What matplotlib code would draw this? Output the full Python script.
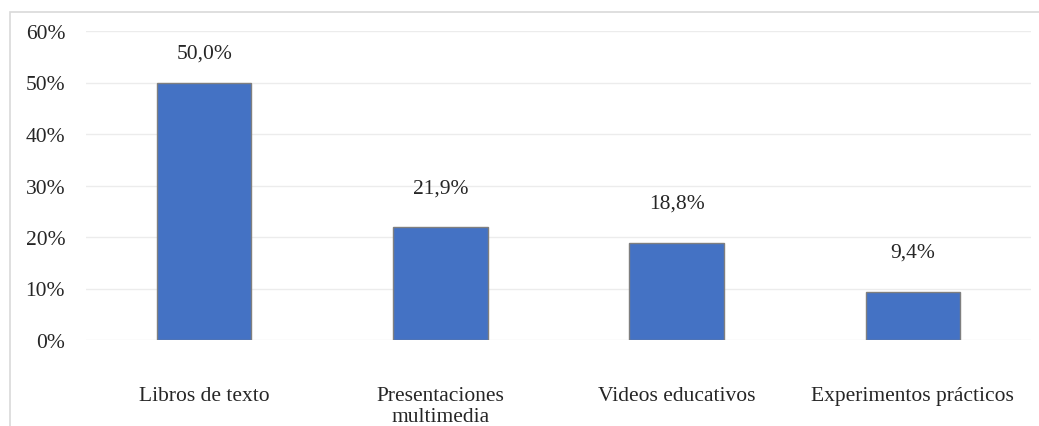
import matplotlib.pyplot as plt
import matplotlib.patches as patches

categories = ['Libros de texto', 'Presentaciones\nmultimedia', 'Videos educativos', 'Experimentos prácticos']
values = [50.0, 21.9, 18.8, 9.4]
yticks = [0, 10, 20, 30, 40, 50, 60]

plt.rcParams['font.family'] = ['Liberation Serif', 'DejaVu Serif']
fs = 15.5
txt = '#262626'

fig = plt.figure(figsize=(10.39, 4.27), dpi=100)
ax = fig.add_axes([86 / 1039, 1 - 341 / 427, 945 / 1039, 309 / 427])

x = range(len(categories))
ax.bar(x, values, width=0.40, color='#4472c4', edgecolor='#7f7f7f', linewidth=1.0, zorder=3)

# value labels sit above the bars, kept inside the plot area near the top
for xi, v in zip(x, values):
    ax.text(xi, min(v + 7.7, 55.8), f'{v:.1f}%'.replace('.', ','),
            ha='center', va='center', fontsize=fs, color=txt)

ax.set_xlim(-0.5, len(categories) - 0.5)
ax.set_ylim(0, 60)
ax.set_yticks(yticks)
ax.set_yticklabels([f'{t}%' for t in yticks], fontsize=fs, color=txt)
ax.set_xticks(list(x))
ax.set_xticklabels(categories, fontsize=fs, color=txt, linespacing=1.15)
ax.tick_params(axis='y', length=0, pad=15)
ax.tick_params(axis='x', length=0, pad=33)
ax.grid(axis='y', color='#ececec', linewidth=1.0, zorder=0)
for s in ax.spines.values():
    s.set_visible(False)

# light frame around the chart area
frame = patches.Rectangle((10 / 1039, -0.1), 1.1, 1 - 13 / 427 + 0.1, transform=fig.transFigure,
                          fill=False, edgecolor='#d9d9d9', linewidth=1.2)
fig.patches.append(frame)

fig.savefig('out.png', dpi=100)
